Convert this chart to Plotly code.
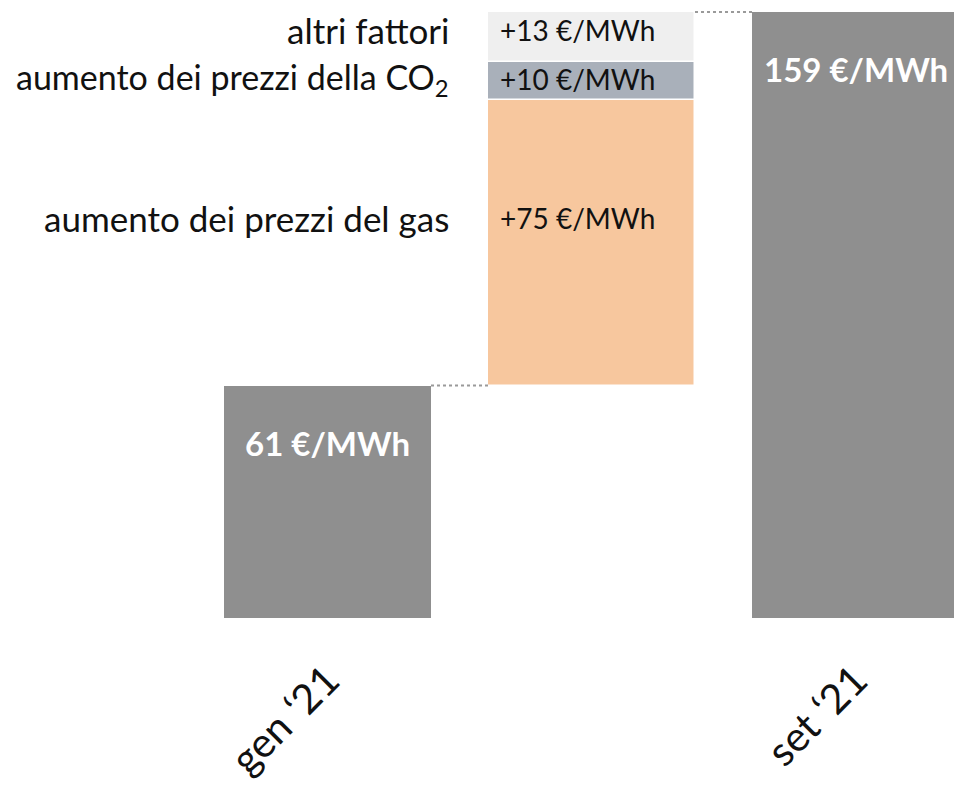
import plotly.graph_objects as go

# ---- data ----
categories = ["gen \u201821", "", "set \u201821"]
start_value = 61
end_value = 159
step_names = ["aumento dei prezzi del gas", "aumento dei prezzi della CO<sub>2</sub>", "altri fattori"]
step_values = [75, 10, 13]
step_colors = ["#f7c79e", "#a9b0ba", "#efefef"]
value_unit = "\u20ac/MWh"

BAR_W = 0.784
GRAY = "#8f8f8f"
FONT = "Lato"

fig = go.Figure()

# totals
fig.add_trace(go.Bar(x=[0, 2], y=[start_value, end_value], width=BAR_W,
                     marker=dict(color=GRAY, line=dict(width=0)),
                     hoverinfo="skip", showlegend=False))

# steps
bases = []
b = start_value
for v in step_values:
    bases.append(b)
    b += v
for name, v, base, col in zip(step_names, step_values, bases, step_colors):
    fig.add_trace(go.Bar(x=[1], y=[v], base=[base], width=BAR_W,
                         marker=dict(color=col, line=dict(color="white", width=1.5)),
                         hoverinfo="skip", showlegend=False))

annotations = []
# step value labels and left names
yshifts = [25, 2, 7]
name_sizes = [35, 34, 35]
for name, v, base, ys, ns in zip(step_names, step_values, bases, yshifts, name_sizes):
    mid = base + v / 2
    annotations.append(dict(x=1 - BAR_W / 2, y=mid, xref="x", yref="y", xanchor="left",
                            yanchor="middle", xshift=10, yshift=ys, showarrow=False,
                            text=f"+{v} {value_unit}",
                            font=dict(family=FONT, size=28, color="#111111")))
    annotations.append(dict(x=451 / 954, y=mid, xref="paper", yref="y", xanchor="right",
                            yanchor="middle", yshift=ys, showarrow=False, text=name,
                            font=dict(family=FONT, size=ns, color="#111111")))

# total labels
for xi, v in zip([0, 2], [start_value, end_value]):
    annotations.append(dict(x=xi, y=v, xref="x", yref="y", xanchor="center", yanchor="middle",
                            yshift=-57, showarrow=False, text=f"<b>{v} {value_unit}</b>",
                            font=dict(family=FONT, size=33, color="white")))

# dotted connectors
shapes = [
    dict(type="line", xref="x", yref="y", x0=BAR_W / 2, x1=1 - BAR_W / 2,
         y0=start_value, y1=start_value, line=dict(color="#9a9a9a", width=2, dash="dot")),
    dict(type="line", xref="x", yref="y", x0=1 + BAR_W / 2, x1=2 - BAR_W / 2,
         y0=end_value, y1=end_value, line=dict(color="#9a9a9a", width=2, dash="dot")),
]

fig.update_layout(
    width=954, height=786,
    margin=dict(l=0, r=0, t=0, b=168, autoexpand=False),
    plot_bgcolor="white", paper_bgcolor="white",
    barmode="overlay", bargap=0,
    annotations=annotations, shapes=shapes,
    xaxis=dict(range=[-1.2405, 2.373], tickmode="array", tickvals=[0, 1, 2],
               ticktext=categories, tickangle=-45, showgrid=False, zeroline=False,
               showline=False, ticks="", ticklabelstandoff=29, automargin=False,
               tickfont=dict(family=FONT, size=41, color="#111111")),
    yaxis=dict(range=[0, 162.15], visible=False, showgrid=False, zeroline=False),
)

fig.write_html("out.html", config={"displayModeBar": False},
               post_script="document.body.style.margin='0px';")
